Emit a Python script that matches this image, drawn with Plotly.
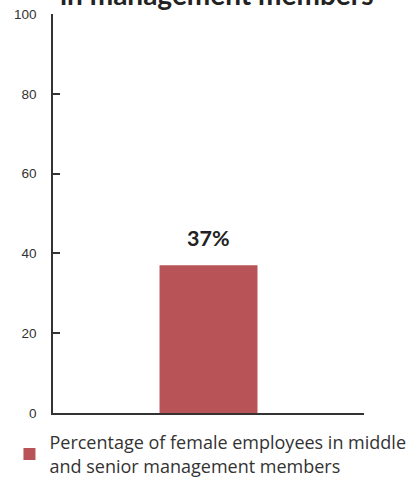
import plotly.graph_objects as go

# Chart data
categories = ["Female managers"]
values = [37]
value_labels = ["37%"]
series_name = "Percentage of female employees in middle<br>and senior management members"
y_ticks = [0, 20, 40, 60, 80, 100]

bar_color = "#B85457"
axis_color = "#333333"

fig = go.Figure()
fig.add_trace(go.Bar(
    x=categories,
    y=values,
    name=series_name,
    marker=dict(color=bar_color, line=dict(width=0)),
    width=0.315,
    showlegend=True,
))

# value label above the bar
for cat, val, lab in zip(categories, values, value_labels):
    fig.add_annotation(
        x=cat, y=val, text=f"<b>{lab}</b>",
        xref="x", yref="y", xanchor="center", yanchor="bottom",
        yshift=12, showarrow=False,
        font=dict(family="Lato", size=21.5, color="#222222"),
    )

fig.add_annotation(
    text="<b>in management members</b>",
    xref="paper", yref="paper", x=0.525, y=1,
    xanchor="center", yanchor="bottom", yshift=1,
    showarrow=False,
    font=dict(family="Lato", size=28, color="#222222"),
)

fig.update_layout(
    width=417,
    height=481,
    margin=dict(l=53, r=53, t=14, b=68, autoexpand=False),
    paper_bgcolor="white",
    plot_bgcolor="white",
    showlegend=True,
    legend=dict(
        x=-0.14, y=-0.028, xanchor="left", yanchor="top",
        font=dict(family="Open Sans", size=18, color="#333333"),
        itemwidth=30,
        bgcolor="rgba(0,0,0,0)",
    ),
    xaxis=dict(
        range=[-0.5, 0.5],
        showline=True, linecolor=axis_color, linewidth=1.5,
        showticklabels=False,
        tickmode="array", tickvals=[0.5],
        ticks="inside", ticklen=6, tickcolor=axis_color, tickwidth=1.5,
        showgrid=False, zeroline=False, fixedrange=True,
    ),
    yaxis=dict(
        range=[0, 100],
        tickvals=y_ticks,
        showline=True, linecolor=axis_color, linewidth=1.5,
        ticks="inside", ticklen=7, tickcolor=axis_color, tickwidth=1.5,
        tickfont=dict(family="Liberation Sans", size=13.5, color="#333333"),
        showgrid=False, zeroline=False, ticklabelstandoff=12,
    ),
)

fig.write_html("out.html")
